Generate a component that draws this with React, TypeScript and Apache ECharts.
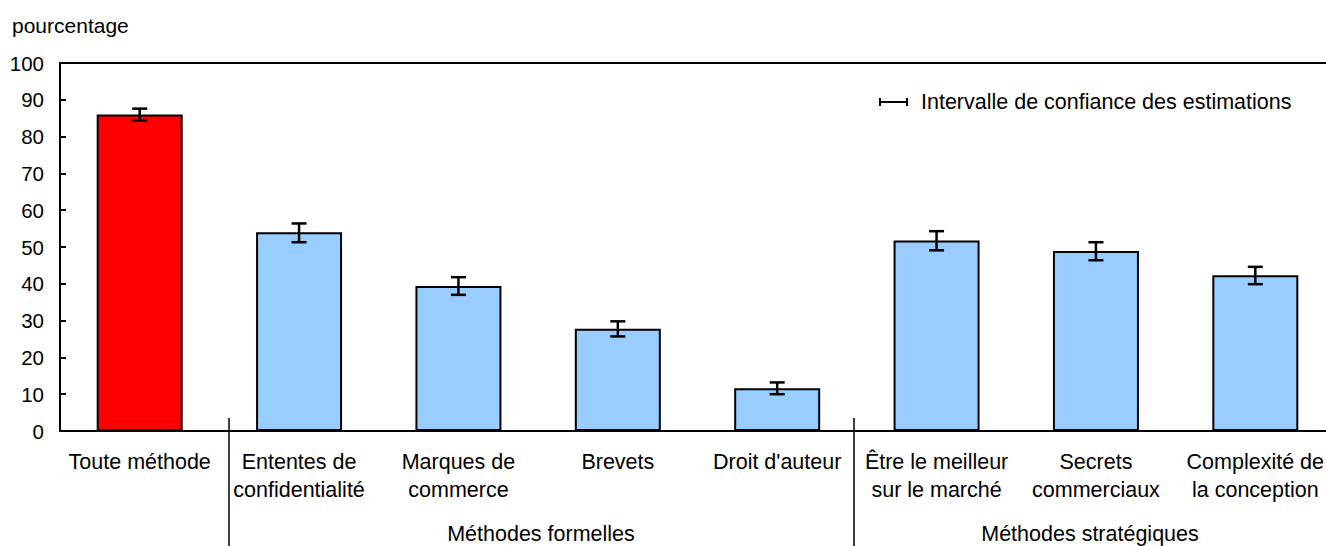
import React, { useEffect, useRef } from "react";
import * as echarts from "echarts";

const categories = [
  "Toute méthode",
  "Ententes de\nconfidentialité",
  "Marques de\ncommerce",
  "Brevets",
  "Droit d'auteur",
  "Être le meilleur\nsur le marché",
  "Secrets\ncommerciaux",
  "Complexité de\nla conception",
];
const values = [86, 54, 39.4, 27.8, 11.6, 51.8, 48.9, 42.3];
const lowerCI = [84.4, 51.3, 37.0, 25.7, 10.0, 49.1, 46.4, 39.9];
const upperCI = [87.6, 56.4, 41.8, 29.8, 13.2, 54.3, 51.3, 44.6];
const barColors = ["#FF0000", "#99CCFF", "#99CCFF", "#99CCFF", "#99CCFF", "#99CCFF", "#99CCFF", "#99CCFF"];
const yTicks = { min: 0, max: 100, interval: 10 };
const groupLabels = ["Méthodes formelles", "Méthodes stratégiques"];
const yTitle = "pourcentage";
const legendText = "Intervalle de confiance des estimations";

const FONT = "'Liberation Sans', Arial, Helvetica, sans-serif";
const LABEL_SIZE = 21.5;

export default function App() {
  const ref = useRef<HTMLDivElement>(null);
  useEffect(() => {
    if (!ref.current) return;
    const chart = echarts.init(ref.current, undefined, { renderer: "svg" });
    const errData = categories.map((_, i) => [i, lowerCI[i], upperCI[i]]);
    chart.setOption({
      animation: false,
      grid: {
        left: 60,
        top: 63,
        width: 1275,
        height: 368,
        show: true,
        borderColor: "#000",
        borderWidth: 2,
        backgroundColor: "transparent",
      },
      xAxis: {
        type: "category",
        data: categories,
        axisLine: { show: true, lineStyle: { color: "#000", width: 2 } },
        axisTick: { show: false },
        axisLabel: {
          interval: 0,
          color: "#000",
          fontSize: LABEL_SIZE,
          fontFamily: FONT,
          lineHeight: 28,
          margin: 17,
        },
      },
      yAxis: {
        type: "value",
        min: yTicks.min,
        max: yTicks.max,
        interval: yTicks.interval,
        splitLine: { show: false },
        axisLine: { show: true, lineStyle: { color: "#000", width: 2 } },
        axisTick: { show: true, inside: true, length: 6, lineStyle: { color: "#000", width: 2 } },
        axisLabel: { color: "#000", fontSize: 20.5, fontFamily: FONT, margin: 16 },
      },
      series: [
        {
          type: "bar",
          barWidth: 86,
          data: values.map((v, i) => ({ value: v, itemStyle: { color: barColors[i] } })),
          itemStyle: { borderColor: "#000", borderWidth: 2 },
          z: 2,
        },
        {
          type: "custom",
          z: 3,
          data: errData,
          renderItem: (params: any, api: any) => {
            const x = api.value(0);
            const lo = api.coord([x, api.value(1)]);
            const hi = api.coord([x, api.value(2)]);
            const hw = 7.5;
            const style = { stroke: "#000", lineWidth: 2.5 };
            return {
              type: "group",
              children: [
                { type: "line", shape: { x1: lo[0], y1: lo[1], x2: hi[0], y2: hi[1] }, style },
                { type: "line", shape: { x1: lo[0] - hw, y1: lo[1], x2: lo[0] + hw, y2: lo[1] }, style },
                { type: "line", shape: { x1: hi[0] - hw, y1: hi[1], x2: hi[0] + hw, y2: hi[1] }, style },
              ],
            };
          },
        },
      ],
      graphic: [
        {
          type: "text",
          x: 12,
          y: 25,
          style: { text: yTitle, fill: "#000", fontSize: 21, fontFamily: FONT, verticalAlign: "middle" },
        },
        { type: "line", shape: { x1: 229, y1: 418, x2: 229, y2: 546 }, style: { stroke: "#000", lineWidth: 1.5 } },
        { type: "line", shape: { x1: 854, y1: 418, x2: 854, y2: 546 }, style: { stroke: "#000", lineWidth: 1.5 } },
        {
          type: "text",
          x: 541,
          y: 534,
          style: { text: groupLabels[0], fill: "#000", fontSize: LABEL_SIZE, fontFamily: FONT, align: "center", verticalAlign: "middle" },
        },
        {
          type: "text",
          x: 1090,
          y: 534,
          style: { text: groupLabels[1], fill: "#000", fontSize: LABEL_SIZE, fontFamily: FONT, align: "center", verticalAlign: "middle" },
        },
        { type: "line", shape: { x1: 880, y1: 102, x2: 908, y2: 102 }, style: { stroke: "#000", lineWidth: 2 } },
        { type: "line", shape: { x1: 880, y1: 98, x2: 880, y2: 106 }, style: { stroke: "#000", lineWidth: 2 } },
        { type: "line", shape: { x1: 907, y1: 98, x2: 907, y2: 106 }, style: { stroke: "#000", lineWidth: 2 } },
        {
          type: "text",
          x: 921,
          y: 102,
          style: { text: legendText, fill: "#000", fontSize: LABEL_SIZE, fontFamily: FONT, verticalAlign: "middle" },
        },
      ],
    });
    return () => chart.dispose();
  }, []);
  return (
    <div
      ref={ref}
      style={{ position: "fixed", left: 0, top: 0, width: 1345, height: 546, background: "#fff" }}
    />
  );
}
